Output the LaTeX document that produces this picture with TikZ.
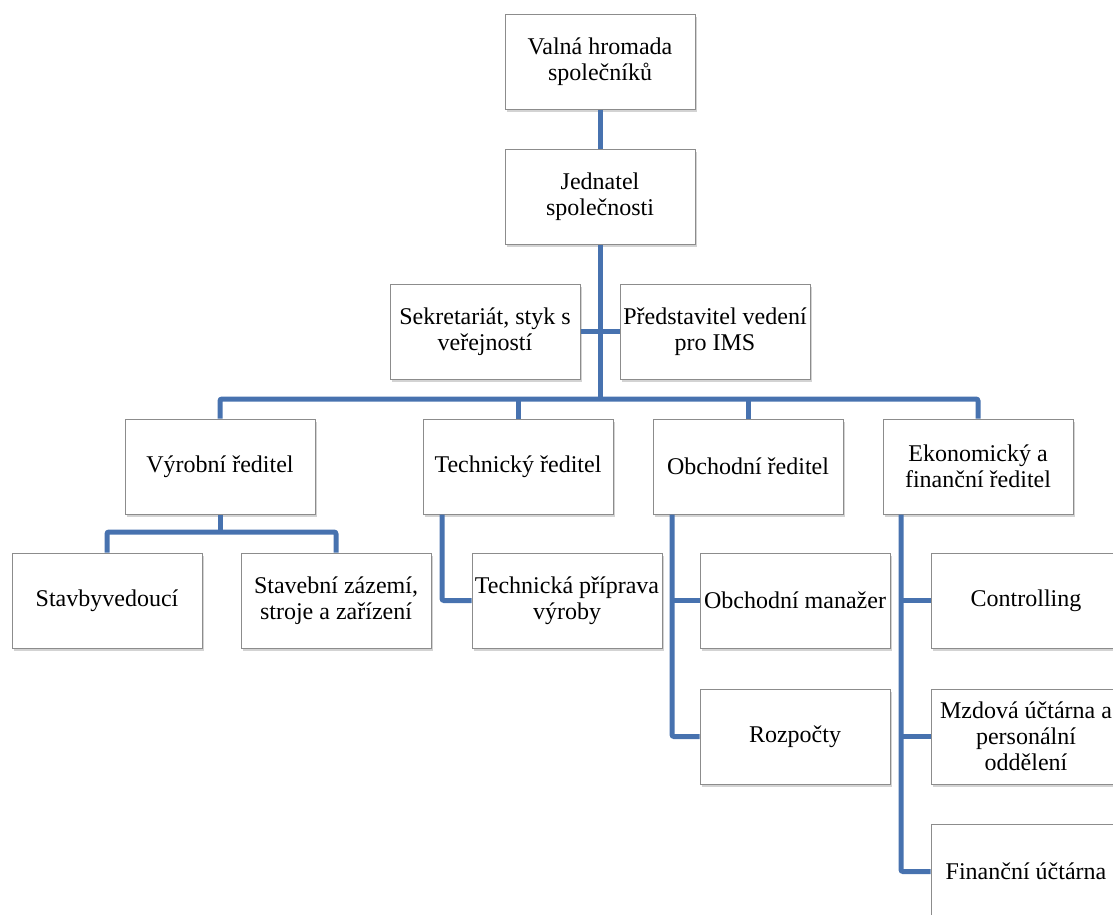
\documentclass[tikz,border=0pt]{standalone}
\usepackage{fontspec}
\setmainfont{Liberation Serif}
\usetikzlibrary{shadows}
\definecolor{linkblue}{RGB}{71,114,175}
\begin{document}
\begin{tikzpicture}[x=1pt,y=-1pt,
  box/.style={draw=black!45, line width=1pt, fill=white, minimum width=190pt, minimum height=95pt, inner sep=0pt, align=center, font=\fontsize{24}{26}\selectfont, drop shadow={opacity=0.35, shadow xshift=2pt, shadow yshift=-3pt}},
  link/.style={draw=linkblue, line width=5pt, rounded corners=2pt}]
\useasboundingbox (0,0) rectangle (1113,914);
\clip (0,0) rectangle (1113,914);
\node[box] (valna) at (600,61.5) {Valná hromada\\společníků};
\node[box] (jed) at (600,196.5) {Jednatel\\společnosti};
\node[box] (sek) at (485,331.5) {Sekretariát, styk s\\veřejností};
\node[box] (pred) at (715,331.5) {Představitel vedení\\pro IMS};
\node[box] (vyr) at (220,466.5) {Výrobní ředitel};
\node[box] (tech) at (518,466.5) {Technický ředitel};
\node[box] (obch) at (748,466.5) {Obchodní ředitel};
\node[box] (eko) at (978,466.5) {Ekonomický a\\finanční ředitel};
\node[box] (stav) at (107,600.5) {Stavbyvedoucí};
\node[box] (zaz) at (336,600.5) {Stavební zázemí,\\stroje a zařízení};
\node[box] (prip) at (567,600.5) {Technická příprava\\výroby};
\node[box] (man) at (795,600.5) {Obchodní manažer};
\node[box] (rozp) at (795,736.5) {Rozpočty};
\node[box] (ctrl) at (1026,600.5) {Controlling};
\node[box] (mzd) at (1026,736.5) {Mzdová účtárna a\\personální\\oddělení};
\node[box] (fin) at (1026,871.5) {Finanční účtárna};
\coordinate (bus) at (600,399);
\coordinate (vyrfork) at (220,532);
\coordinate (techbar) at ([xshift=-76pt]tech.south);
\coordinate (obchbar) at ([xshift=-76pt]obch.south);
\coordinate (ekobar) at ([xshift=-77pt]eko.south);
\draw[link] (valna.south)--(jed.north);
\draw[link] (jed.south)--(bus);
\draw[link] (sek.east)--(pred.west);
\draw[link] (vyr.north) |- (bus) -| (eko.north);
\draw[link] (tech.north)--(tech.north |- bus);
\draw[link] (obch.north)--(obch.north |- bus);
\draw[link] (vyr.south)--(vyrfork);
\draw[link] (stav.north) |- (vyrfork) -| (zaz.north);
\draw[link] (techbar) |- (prip.west);
\draw[link] (obchbar) |- (rozp.west);
\draw[link] (man.west)--(man.west -| obchbar);
\draw[link] (ekobar) |- (fin.west);
\draw[link] (ctrl.west)--(ctrl.west -| ekobar);
\draw[link] (mzd.west)--(mzd.west -| ekobar);
\end{tikzpicture}
\end{document}
